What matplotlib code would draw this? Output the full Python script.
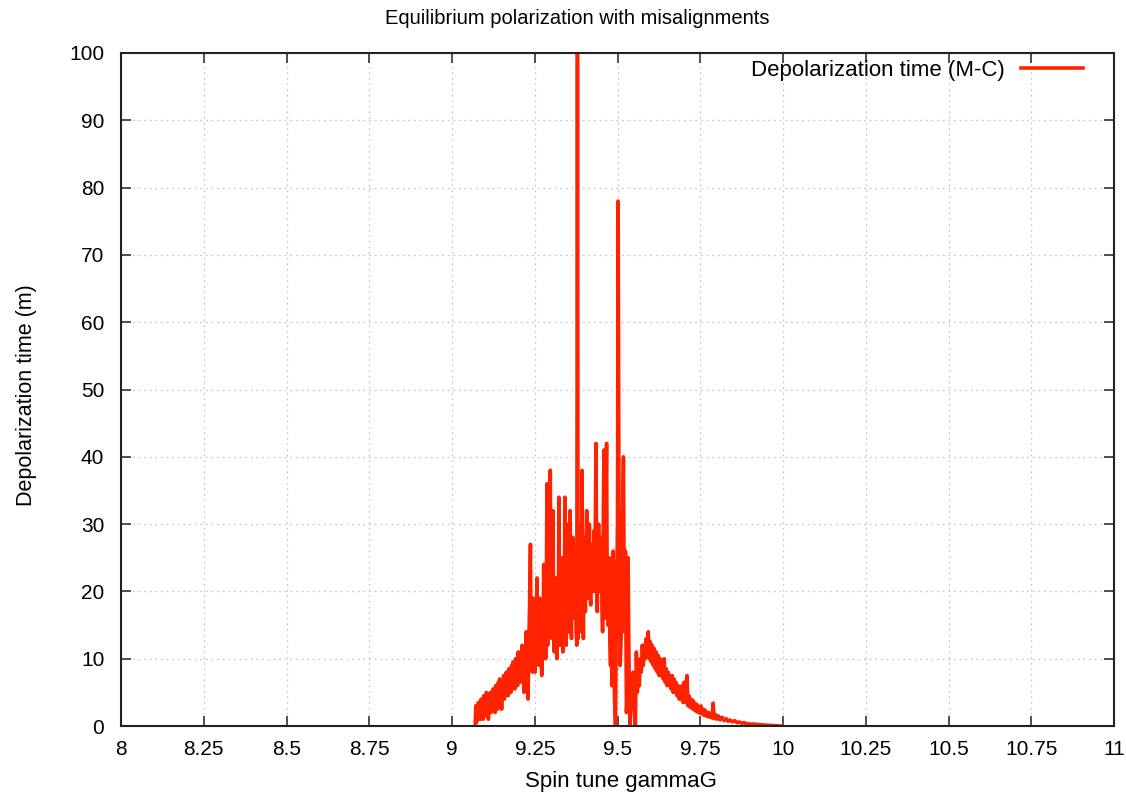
#!/usr/bin/env python3
# Depolarization time vs spin tune (M-C), gnuplot-like look.
import matplotlib
matplotlib.use("Agg")
import matplotlib.pyplot as plt

# spin tune gammaG and depolarization time (m), by region
# rising edge 9.07 - 9.235
x_rise = [9.070, 9.072, 9.074, 9.076, 9.078, 9.080, 9.082, 9.084, 9.086, 9.088,
          9.090, 9.092, 9.094, 9.096, 9.098, 9.100, 9.102, 9.104, 9.106, 9.108,
          9.110, 9.112, 9.114, 9.116, 9.118, 9.120, 9.122, 9.124, 9.126, 9.128,
          9.130, 9.132, 9.134, 9.136, 9.138, 9.140, 9.142, 9.144, 9.146, 9.148,
          9.150, 9.152, 9.154, 9.156, 9.158, 9.160, 9.162, 9.164, 9.166, 9.168,
          9.170, 9.172, 9.174, 9.176, 9.178, 9.180, 9.182, 9.184, 9.186, 9.188,
          9.190, 9.192, 9.194, 9.196, 9.198, 9.200, 9.202, 9.204, 9.206, 9.208,
          9.210, 9.212, 9.214, 9.216, 9.218, 9.220, 9.222, 9.224, 9.226, 9.228,
          9.230, 9.232, 9.234]
y_rise = [0.0, 3.0, 0.5, 2.0, 1.0, 3.5, 1.0, 2.5, 1.0, 4.0,
          1.5, 3.0, 1.0, 4.5, 2.0, 3.0, 1.5, 5.0, 2.0, 3.5,
          1.0, 4.0, 2.5, 5.0, 2.0, 4.0, 2.5, 5.5, 3.0, 4.5,
          2.0, 6.0, 3.0, 5.0, 2.5, 6.5, 3.5, 7.0, 3.0, 5.0,
          2.5, 6.0, 4.0, 7.5, 4.0, 6.0, 4.5, 8.0, 5.0, 7.0,
          4.5, 8.5, 5.0, 7.5, 5.0, 9.0, 5.5, 9.5, 6.0, 8.0,
          5.5, 10.0, 6.5, 9.0, 6.0, 11.0, 7.0, 10.0, 6.5, 11.0,
          7.0, 12.0, 8.0, 10.0, 5.0, 11.0, 7.0, 14.0, 6.0, 10.0,
          4.0, 12.0, 17.0]
# dense spiky core 9.237 - 9.55
x_core = [9.237, 9.239, 9.241, 9.243, 9.245, 9.247, 9.249, 9.251, 9.253, 9.255,
          9.257, 9.259, 9.261, 9.263, 9.265, 9.267, 9.269, 9.271, 9.273, 9.275,
          9.277, 9.279, 9.281, 9.283, 9.285, 9.287, 9.289, 9.291, 9.293, 9.295,
          9.297, 9.299, 9.301, 9.303, 9.305, 9.307, 9.309, 9.311, 9.313, 9.315,
          9.317, 9.319, 9.321, 9.323, 9.325, 9.327, 9.329, 9.331, 9.333, 9.335,
          9.337, 9.339, 9.341, 9.343, 9.345, 9.347, 9.349, 9.351, 9.353, 9.355,
          9.357, 9.359, 9.361, 9.363, 9.365, 9.367, 9.369, 9.371, 9.373, 9.375,
          9.377, 9.379, 9.381, 9.383, 9.385, 9.387, 9.389, 9.391, 9.393, 9.395,
          9.397, 9.399, 9.401, 9.403, 9.405, 9.407, 9.409, 9.411, 9.413, 9.415,
          9.417, 9.419, 9.421, 9.423, 9.425, 9.427, 9.429, 9.431, 9.433, 9.435,
          9.437, 9.439, 9.441, 9.443, 9.445, 9.447, 9.449, 9.451, 9.453, 9.455,
          9.457, 9.459, 9.461, 9.463, 9.465, 9.467, 9.469, 9.471, 9.473, 9.475,
          9.477, 9.479, 9.481, 9.483, 9.485, 9.487, 9.489, 9.491, 9.494, 9.497,
          9.500, 9.502, 9.505, 9.508, 9.511, 9.515, 9.518, 9.521, 9.524, 9.527,
          9.530, 9.532, 9.535, 9.538, 9.542, 9.547, 9.551]
y_core = [27.0, 10.0, 18.0, 8.0, 19.0, 11.0, 16.0, 8.0, 14.0, 17.0,
          22.0, 10.0, 15.0, 9.0, 19.0, 11.0, 16.0, 7.5, 15.0, 10.0,
          24.0, 12.0, 18.0, 10.0, 20.0, 36.0, 12.0, 22.0, 13.0, 26.0,
          38.0, 14.0, 20.0, 13.0, 32.0, 15.0, 11.0, 20.0, 14.0, 22.0,
          10.0, 18.0, 14.0, 34.0, 16.0, 12.0, 24.0, 15.0, 25.0, 11.0,
          20.0, 14.0, 34.0, 18.0, 12.0, 24.0, 16.0, 30.0, 14.0, 22.0,
          32.0, 15.0, 13.0, 24.0, 28.0, 17.0, 22.0, 16.0, 26.0, 14.0,
          12.0, 100.0, 13.0, 20.0, 30.0, 16.0, 22.0, 14.0, 38.0, 18.0,
          13.0, 28.0, 20.0, 17.0, 26.0, 32.0, 19.0, 24.0, 19.0, 30.0,
          21.0, 18.0, 26.0, 27.0, 20.0, 24.0, 29.0, 20.0, 30.0, 42.0,
          22.0, 17.0, 25.0, 30.0, 20.0, 26.0, 21.0, 28.0, 18.0, 14.0,
          30.0, 41.0, 16.0, 24.0, 34.0, 42.0, 20.0, 15.0, 24.0, 25.0,
          12.0, 9.0, 16.0, 6.0, 14.0, 26.0, 10.0, 4.0, 0.0, 20.0,
          30.0, 78.0, 22.0, 9.0, 13.0, 30.0, 40.0, 14.0, 26.0, 2.0,
          6.0, 25.0, 8.0, 0.0, 6.0, 8.0, 2.0]
# second hump and decay tail 9.554 - 10.0
x_tail = [9.554, 9.557, 9.560, 9.563, 9.566, 9.569, 9.572, 9.575, 9.578, 9.581,
          9.584, 9.587, 9.590, 9.593, 9.596, 9.599, 9.602, 9.605, 9.608, 9.611,
          9.614, 9.617, 9.620, 9.623, 9.626, 9.629, 9.632, 9.635, 9.638, 9.641,
          9.644, 9.647, 9.650, 9.653, 9.656, 9.659, 9.662, 9.665, 9.668, 9.671,
          9.674, 9.677, 9.680, 9.683, 9.686, 9.689, 9.692, 9.695, 9.698, 9.701,
          9.704, 9.707, 9.710, 9.713, 9.716, 9.719, 9.722, 9.725, 9.728, 9.731,
          9.734, 9.737, 9.740, 9.743, 9.746, 9.749, 9.752, 9.755, 9.758, 9.761,
          9.764, 9.767, 9.770, 9.773, 9.776, 9.779, 9.782, 9.785, 9.789, 9.792,
          9.796, 9.800, 9.805, 9.810, 9.816, 9.822, 9.828, 9.834, 9.840, 9.847,
          9.854, 9.861, 9.868, 9.875, 9.882, 9.890, 9.900, 9.920, 9.940, 9.960,
          9.980, 9.995]
y_tail = [0.0, 11.0, 5.0, 8.0, 6.0, 10.0, 8.0, 12.0, 9.0, 12.0,
          10.0, 13.0, 10.5, 14.0, 10.0, 12.5, 9.5, 12.0, 9.0, 11.5,
          8.5, 11.0, 8.0, 10.5, 7.5, 10.0, 7.5, 9.5, 7.0, 10.0,
          6.5, 8.5, 6.0, 8.0, 6.0, 7.5, 5.5, 7.5, 5.0, 7.0,
          5.0, 6.5, 4.5, 6.0, 4.0, 5.5, 4.0, 6.0, 3.5, 6.5,
          3.5, 6.0, 7.5, 3.0, 4.5, 2.8, 4.0, 2.6, 3.8, 2.4,
          3.4, 2.2, 3.2, 2.0, 2.8, 1.9, 3.0, 1.8, 2.5, 1.6,
          2.4, 1.5, 2.1, 1.4, 2.0, 1.3, 1.8, 1.2, 3.4, 1.1,
          1.7, 1.0, 1.5, 0.9, 1.3, 0.8, 1.1, 0.7, 0.9, 0.6,
          0.8, 0.5, 0.6, 0.4, 0.5, 0.35, 0.3, 0.25, 0.15, 0.1,
          0.05, 0.0]

gamma_g = x_rise + x_core + x_tail
depol_time = y_rise + y_core + y_tail

x_ticks = [8, 8.25, 8.5, 8.75, 9, 9.25, 9.5, 9.75, 10, 10.25, 10.5, 10.75, 11]
x_labels = ["8", "8.25", "8.5", "8.75", "9", "9.25", "9.5", "9.75", "10",
            "10.25", "10.5", "10.75", "11"]
y_ticks = [0, 10, 20, 30, 40, 50, 60, 70, 80, 90, 100]

plt.rcParams["font.family"] = ["Liberation Sans", "DejaVu Sans"]
FS = 15

fig = plt.figure(figsize=(11.26, 7.97), dpi=100)
ax = fig.add_axes([121 / 1126, 71 / 797, 993 / 1126, 673 / 797])

ax.plot(gamma_g, depol_time, color="#ff2200", lw=2.6, label="Depolarization time (M-C)")

ax.set_xlim(8, 11)
ax.set_ylim(0, 100)
ax.set_xticks(x_ticks)
ax.set_xticklabels(x_labels)
ax.set_yticks(y_ticks)
ax.tick_params(direction="in", length=7, width=1.2, top=True, right=True,
               labelsize=FS, pad=10, color="#333333")
ax.tick_params(axis="y", pad=12)
ax.grid(True, color="#c8c8c8", ls=(0, (1.5, 3)), lw=0.9)
for s in ax.spines.values():
    s.set_linewidth(1.5)
    s.set_color("#222222")

ax.legend(loc="upper right", bbox_to_anchor=((1083 - 121) / 993, (726 - 60) / 673),
          frameon=False, fontsize=16, markerfirst=False, handlelength=2.8,
          borderpad=0, borderaxespad=0, handletextpad=0.7)

fig.text(577 / 1126, 1 - 18 / 797, "Equilibrium polarization with misalignments",
         ha="center", va="center", fontsize=14.5)
fig.text(621 / 1126, 1 - 781 / 797, "Spin tune gammaG", ha="center", va="center",
         fontsize=16)
fig.text(27 / 1126, 1 - 395 / 797, "Depolarization time (m)", ha="center", va="center",
         rotation=90, fontsize=15.5)

fig.savefig("out.png", dpi=100)
print("wrote out.png")
